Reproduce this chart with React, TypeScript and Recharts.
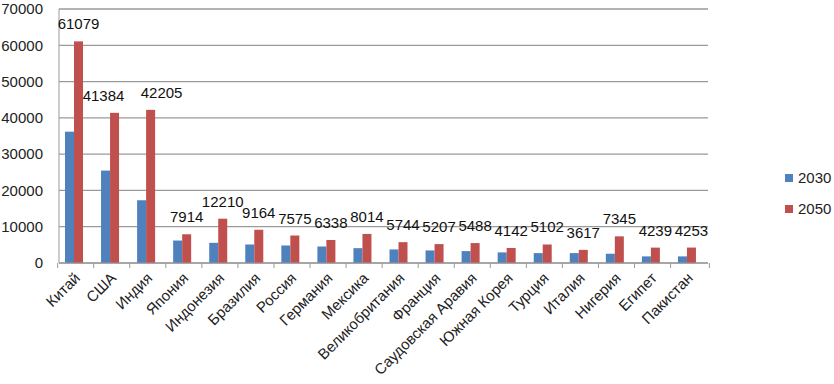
import { Bar, BarChart, CartesianGrid, LabelList, Legend, XAxis, YAxis } from "recharts";

const countries = [
  "Китай", "США", "Индия", "Япония", "Индонезия", "Бразилия", "Россия", "Германия", "Мексика",
  "Великобритания", "Франция", "Саудовская Аравия", "Южная Корея", "Турция", "Италия", "Нигерия",
  "Египет", "Пакистан",
];
const gdp2030 = [36190, 25470, 17290, 6190, 5560, 5100, 4830, 4550, 4090, 3740, 3460, 3280, 2920, 2730, 2730, 2550, 1820, 1820];
const gdp2050 = [61079, 41384, 42205, 7914, 12210, 9164, 7575, 6338, 8014, 5744, 5207, 5488, 4142, 5102, 3617, 7345, 4239, 4253];
const yTicks = [0, 10000, 20000, 30000, 40000, 50000, 60000, 70000];

const data = countries.map((name, i) => ({ name, y2030: gdp2030[i], y2050: gdp2050[i] }));

const FONT = '"Liberation Sans", Arial, sans-serif';
const BLUE = "#4F81BD";
const RED = "#C0504D";
const SHIFT = -3; // bars sit a bit left of the category centre in the original

function ShiftedBar(props: any) {
  const { x, y, width, height, fill } = props;
  if (!height) return null;
  return <rect x={x + SHIFT} y={y} width={width} height={height} fill={fill} />;
}

function CountryTick(props: any) {
  const { x, y, payload, index, visibleTicksCount } = props;
  const band = 698 / 18;
  return (
    <g>
      <line x1={x - band / 2} x2={x - band / 2} y1={y - 8} y2={y - 3} stroke="#9a9a9a" />
      {index === visibleTicksCount - 1 && (
        <line x1={x + band / 2} x2={x + band / 2} y1={y - 8} y2={y - 3} stroke="#9a9a9a" />
      )}
      <text
        transform={`translate(${x + 4},${y + 8}) rotate(-45)`}
        textAnchor="end"
        fontSize={15}
        fontFamily={FONT}
        fill="#222"
      >
        {payload.value}
      </text>
    </g>
  );
}

// push apart two wide labels of neighbouring bars that end up at about the same height
function crowded(i: number, j: number) {
  if (j < 0 || j >= gdp2050.length) return false;
  return gdp2050[i] >= 10000 && gdp2050[j] >= 10000 && Math.abs(gdp2050[i] - gdp2050[j]) < 5000;
}

function ValueLabel(props: any) {
  const { x, y, width, value, index } = props;
  let dx = 0;
  if (crowded(index, index + 1)) dx -= 11;
  if (crowded(index, index - 1)) dx += 11;
  return (
    <text x={x + width / 2 + SHIFT + dx} y={y - 12} textAnchor="middle" fontSize={15} fontFamily={FONT} fill="#111">
      {value}
    </text>
  );
}

function LegendBox() {
  const items = [
    { label: "2030", color: BLUE },
    { label: "2050", color: RED },
  ];
  return (
    <div style={{ fontFamily: FONT, fontSize: 15, color: "#222" }}>
      {items.map((it) => (
        <div key={it.label} style={{ display: "flex", alignItems: "center", height: 31 }}>
          <span style={{ width: 8, height: 8, background: it.color, marginRight: 5, display: "inline-block" }} />
          {it.label}
        </div>
      ))}
    </div>
  );
}

export default function App() {
  return (
    <div style={{ position: "absolute", left: 0, top: 0, width: 834, height: 384, background: "#fff" }}>
      <BarChart
        width={834}
        height={384}
        data={data}
        margin={{ top: 9, right: 77, bottom: 0, left: 0 }}
        barSize={9}
        barGap={0}
      >
        <CartesianGrid vertical={false} stroke="#9a9a9a" strokeWidth={1.3} />
        <YAxis
          width={59}
          domain={[0, 70000]}
          ticks={yTicks}
          interval={0}
          tickLine={false}
          axisLine={{ stroke: "#9a9a9a" }}
          tickSize={6}
          tickMargin={10}
          tick={{ fontSize: 15, fontFamily: FONT, fill: "#222" }}
        />
        <XAxis
          dataKey="name"
          height={121}
          interval={0}
          tickLine={false}
          axisLine={{ stroke: "#9a9a9a" }}
          tick={<CountryTick />}
        />
        <Legend
          layout="vertical"
          align="right"
          verticalAlign="top"
          content={<LegendBox />}
          wrapperStyle={{ top: 162, left: 785, width: 49 }}
        />
        <Bar dataKey="y2030" name="2030" fill={BLUE} shape={<ShiftedBar />} isAnimationActive={false} />
        <Bar dataKey="y2050" name="2050" fill={RED} shape={<ShiftedBar />} isAnimationActive={false}>
          <LabelList dataKey="y2050" content={<ValueLabel />} />
        </Bar>
      </BarChart>
    </div>
  );
}
